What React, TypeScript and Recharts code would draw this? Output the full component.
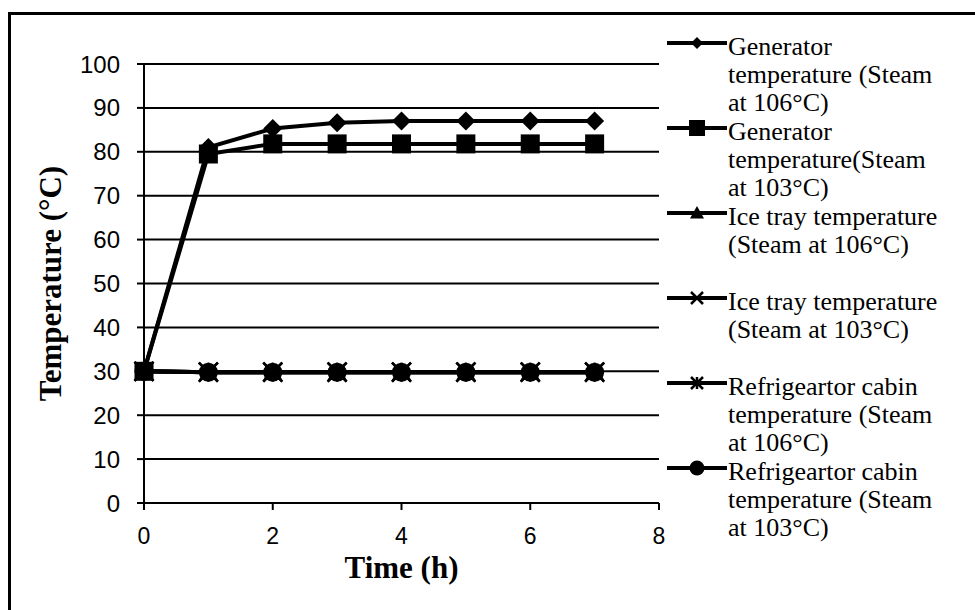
import { LineChart, Line, XAxis, YAxis, CartesianGrid, Legend } from 'recharts';

// time in hours, readings every hour
const hours = [0, 1, 2, 3, 4, 5, 6, 7];
const generatorSteam106 = [30, 81, 85.3, 86.6, 87, 87, 87, 87];
const generatorSteam103 = [30, 79.5, 81.8, 81.8, 81.8, 81.8, 81.8, 81.8];
const iceTraySteam106 = [30, 29.8, 29.8, 29.8, 29.8, 29.8, 29.8, 29.8];
const iceTraySteam103 = [30, 29.8, 29.8, 29.8, 29.8, 29.8, 29.8, 29.8];
const cabinSteam106 = [30, 29.8, 29.8, 29.8, 29.8, 29.8, 29.8, 29.8];
const cabinSteam103 = [30, 29.8, 29.8, 29.8, 29.8, 29.8, 29.8, 29.8];

const xTicks = [0, 2, 4, 6, 8];
const yTicks = [0, 10, 20, 30, 40, 50, 60, 70, 80, 90, 100];

type MarkerKind = 'diamond' | 'square' | 'triangle' | 'cross' | 'star' | 'circle';

const series: { key: string; marker: MarkerKind; legendSize: number; label: string[] }[] = [
  { key: 'gen106', marker: 'diamond', legendSize: 12, label: ['Generator', 'temperature (Steam', 'at 106°C)'] },
  { key: 'gen103', marker: 'square', legendSize: 16, label: ['Generator', 'temperature(Steam', 'at 103°C)'] },
  { key: 'ice106', marker: 'triangle', legendSize: 14, label: ['Ice tray temperature', '(Steam at 106°C)'] },
  { key: 'ice103', marker: 'cross', legendSize: 12, label: ['Ice tray temperature', '(Steam at 103°C)'] },
  { key: 'cabin106', marker: 'star', legendSize: 12, label: ['Refrigeartor cabin', 'temperature (Steam', 'at 106°C)'] },
  { key: 'cabin103', marker: 'circle', legendSize: 15, label: ['Refrigeartor cabin', 'temperature (Steam', 'at 103°C)'] },
];

const data = hours.map((h, i) => ({
  time: h,
  gen106: generatorSteam106[i],
  gen103: generatorSteam103[i],
  ice106: iceTraySteam106[i],
  ice103: iceTraySteam103[i],
  cabin106: cabinSteam106[i],
  cabin103: cabinSteam103[i],
}));

const SERIF = '"Liberation Serif", "Times New Roman", serif';
const SANS = '"Liberation Sans", Arial, sans-serif';

function MarkerShape({ kind, cx, cy, size }: { kind: MarkerKind; cx: number; cy: number; size: number }) {
  const r = size / 2;
  switch (kind) {
    case 'diamond':
      return <polygon points={`${cx},${cy - r} ${cx + r},${cy} ${cx},${cy + r} ${cx - r},${cy}`} fill="#000" />;
    case 'square':
      return <rect x={cx - r} y={cy - r} width={size} height={size} fill="#000" />;
    case 'triangle':
      return <polygon points={`${cx},${cy - r} ${cx + r},${cy + r * 0.8} ${cx - r},${cy + r * 0.8}`} fill="#000" />;
    case 'cross':
      return (
        <g stroke="#000" strokeWidth={2.5}>
          <line x1={cx - r} y1={cy - r} x2={cx + r} y2={cy + r} />
          <line x1={cx - r} y1={cy + r} x2={cx + r} y2={cy - r} />
        </g>
      );
    case 'star':
      return (
        <g stroke="#000" strokeWidth={2.5}>
          <line x1={cx - r} y1={cy - r} x2={cx + r} y2={cy + r} />
          <line x1={cx - r} y1={cy + r} x2={cx + r} y2={cy - r} />
          <line x1={cx} y1={cy - r} x2={cx} y2={cy + r} />
        </g>
      );
    default:
      return <circle cx={cx} cy={cy} r={r} fill="#000" />;
  }
}

// Excel style legend: fixed step between entries, text wraps as in the original
const renderLegend = () => (
  <div style={{ position: 'relative', width: 315, height: 520 }}>
    {series.map((s, i) => (
      <div key={s.key} style={{ position: 'absolute', left: 7, top: 33 + i * 85, display: 'flex' }}>
        <svg width={60} height={28} style={{ flex: 'none' }}>
          <line x1={0} y1={10} x2={60} y2={10} stroke="#000" strokeWidth={4} />
          <MarkerShape kind={s.marker} cx={30} cy={10} size={s.legendSize} />
        </svg>
        <div style={{ fontFamily: SERIF, fontSize: 26, lineHeight: '28px', color: '#000', marginLeft: 1, whiteSpace: 'nowrap' }}>
          {s.label.map((t) => (
            <div key={t}>{t}</div>
          ))}
        </div>
      </div>
    ))}
  </div>
);

export default function App() {
  return (
    <div style={{ position: 'absolute', left: 0, top: 0, width: 975, height: 610, background: '#fff', overflow: 'hidden' }}>
      <div style={{ position: 'absolute', left: 8, top: 12, right: -10, bottom: -10, borderLeft: '3px solid #000', borderTop: '3px solid #000' }} />
      <div style={{ position: 'absolute', left: 0, top: 0 }}>
        <LineChart width={975} height={610} data={data} margin={{ top: 64, right: 316, bottom: 27, left: 0 }}>
          <CartesianGrid stroke="#000" strokeWidth={2} vertical={false} />
          <XAxis
            dataKey="time"
            type="number"
            domain={[0, 8]}
            ticks={xTicks}
            height={80}
            tickSize={7}
            tickMargin={18}
            axisLine={{ stroke: '#000', strokeWidth: 2 }}
            tickLine={{ stroke: '#000', strokeWidth: 2 }}
            tick={{ fill: '#000', fontSize: 23, fontFamily: SANS }}
            label={{
              content: (p: any) => {
                const vb = p.viewBox;
                return (
                  <text x={vb.x + vb.width / 2} y={vb.y + 75} textAnchor="middle" fontFamily={SERIF} fontWeight="bold" fontSize={31} fill="#000">
                    Time (h)
                  </text>
                );
              },
            }}
          />
          <YAxis
            type="number"
            domain={[0, 100]}
            ticks={yTicks}
            width={144}
            tickSize={7}
            tickMargin={17}
            interval={0}
            axisLine={{ stroke: '#000', strokeWidth: 2 }}
            tickLine={{ stroke: '#000', strokeWidth: 2 }}
            tick={{ fill: '#000', fontSize: 24, fontFamily: SANS }}
            label={{
              content: (p: any) => {
                const vb = p.viewBox;
                const x = vb.x + 50;
                const y = vb.y + vb.height / 2;
                return (
                  <text x={x} y={y} transform={`rotate(-90 ${x} ${y})`} textAnchor="middle" dominantBaseline="central" fontFamily={SERIF} fontWeight="bold" fontSize={31} fill="#000">
                    Temperature (°C)
                  </text>
                );
              },
            }}
          />
          <Legend
            layout="vertical"
            align="center"
            verticalAlign="middle"
            content={renderLegend}
            wrapperStyle={{ left: 660, top: 0, width: 315 }}
          />
          {series.map((s) => (
            <Line
              key={s.key}
              dataKey={s.key}
              type="linear"
              stroke="#000"
              strokeWidth={4}
              isAnimationActive={false}
              dot={(p: any) => (
                <g key={`${s.key}-${p.index}`}>
                  <MarkerShape kind={s.marker} cx={p.cx} cy={p.cy} size={19} />
                </g>
              )}
              activeDot={false}
            />
          ))}
        </LineChart>
      </div>
    </div>
  );
}
